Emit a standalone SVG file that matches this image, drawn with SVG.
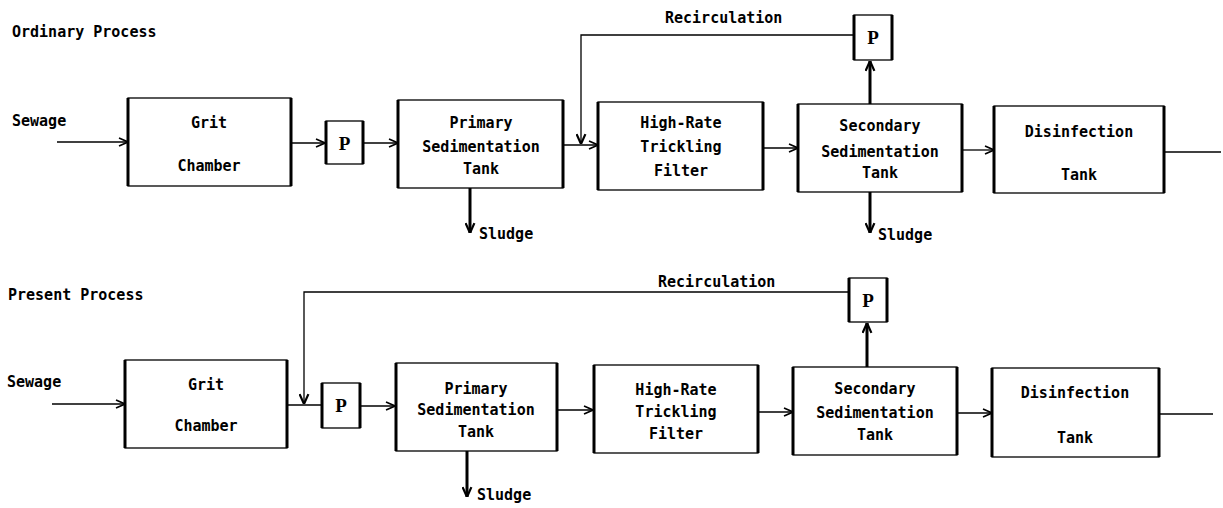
<svg xmlns="http://www.w3.org/2000/svg" width="1223" height="508" viewBox="0 0 1223 508">
<style>
text{font-family:"DejaVu Sans Mono","Liberation Mono",monospace;font-size:15px;font-weight:bold;fill:#000}
.c{text-anchor:middle}
.pl{font-family:"Liberation Serif",serif;font-size:19px;font-weight:bold;text-anchor:middle}
.bx{fill:#fff;stroke:#000;stroke-width:1.3}
.sd{fill:none;stroke:#000;stroke-width:3}
.ln{fill:none;stroke:#000;stroke-width:1.3}
.tk{fill:none;stroke:#000;stroke-width:3}
</style>
<defs>
<marker id="a" viewBox="0 0 10 10" refX="10" refY="5" markerWidth="10" markerHeight="10" markerUnits="userSpaceOnUse" orient="auto">
<path d="M1,1 L10,5 L1,9" fill="none" stroke="#000" stroke-width="1.6"/>
</marker>
<marker id="at" viewBox="0 0 10 10" refX="10" refY="5" markerWidth="11" markerHeight="11" markerUnits="userSpaceOnUse" orient="auto">
<path d="M1,1 L10,5 L1,9" fill="none" stroke="#000" stroke-width="2"/>
</marker>
</defs>
<rect width="1223" height="508" fill="#fff"/>

<g id="labels">
<text x="12" y="37">Ordinary Process</text>
<text x="12" y="126">Sewage</text>
<text x="665" y="23">Recirculation</text>
<text x="479" y="239">Sludge</text>
<text x="878" y="240">Sludge</text>
<text x="8" y="300">Present Process</text>
<text x="7" y="387">Sewage</text>
<text x="658" y="287">Recirculation</text>
<text x="477" y="500">Sludge</text>
</g>

<g id="connectors">
<!-- top row -->
<line class="ln" x1="57" y1="142" x2="128" y2="142" marker-end="url(#a)"/>
<line class="ln" x1="291" y1="143" x2="325" y2="143" marker-end="url(#a)"/>
<line class="ln" x1="363" y1="143" x2="398" y2="143" marker-end="url(#a)"/>
<line class="ln" x1="563" y1="145" x2="598" y2="145" marker-end="url(#a)"/>
<polyline class="ln" points="854,35 581,35 581,144" marker-end="url(#at)"/>
<line class="ln" x1="763" y1="148" x2="798" y2="148" marker-end="url(#a)"/>
<line class="ln" x1="962" y1="150" x2="994" y2="150" marker-end="url(#a)"/>
<line class="ln" x1="1164" y1="152" x2="1221" y2="152"/>
<line class="tk" x1="870" y1="104" x2="870" y2="61" marker-end="url(#at)"/>
<line class="tk" x1="470" y1="188" x2="470" y2="233" marker-end="url(#at)"/>
<line class="tk" x1="870" y1="192" x2="870" y2="233" marker-end="url(#at)"/>
<!-- bottom row -->
<line class="ln" x1="52" y1="404" x2="125" y2="404" marker-end="url(#a)"/>
<line class="ln" x1="287" y1="405" x2="322" y2="405"/>
<polyline class="ln" points="849,292 304,292 304,404" marker-end="url(#at)"/>
<line class="ln" x1="360" y1="406" x2="395" y2="406" marker-end="url(#a)"/>
<line class="ln" x1="557" y1="410" x2="593" y2="410" marker-end="url(#a)"/>
<line class="ln" x1="758" y1="412" x2="793" y2="412" marker-end="url(#a)"/>
<line class="ln" x1="957" y1="413" x2="992" y2="413" marker-end="url(#a)"/>
<line class="ln" x1="1159" y1="414" x2="1213" y2="414"/>
<line class="tk" x1="867" y1="367" x2="867" y2="323" marker-end="url(#at)"/>
<line class="tk" x1="467" y1="451" x2="467" y2="497" marker-end="url(#at)"/>
</g>

<!-- top row nodes -->
<g id="grit1">
<rect class="bx" x="128" y="98" width="163" height="88"/>
<path class="sd" d="M128,98 V186 M291,98 V186"/>
<text class="c" x="209" y="128">Grit</text>
<text class="c" x="209" y="171">Chamber</text>
</g>
<g id="pump1">
<rect class="bx" x="326" y="121" width="37" height="43"/>
<path class="sd" d="M326,121 V164 M363,121 V164"/>
<text class="pl" x="344.5" y="150">P</text>
</g>
<g id="primary1">
<rect class="bx" x="398" y="100" width="165" height="88"/>
<path class="sd" d="M398,100 V188 M563,100 V188"/>
<text class="c" x="481" y="128">Primary</text>
<text class="c" x="481" y="152">Sedimentation</text>
<text class="c" x="481" y="174">Tank</text>
</g>
<g id="filter1">
<rect class="bx" x="598" y="102" width="165" height="88"/>
<path class="sd" d="M598,102 V190 M763,102 V190"/>
<text class="c" x="681" y="128">High-Rate</text>
<text class="c" x="681" y="152">Trickling</text>
<text class="c" x="681" y="176">Filter</text>
</g>
<g id="secondary1">
<rect class="bx" x="798" y="104" width="164" height="88"/>
<path class="sd" d="M798,104 V192 M962,104 V192"/>
<text class="c" x="880" y="131">Secondary</text>
<text class="c" x="880" y="157">Sedimentation</text>
<text class="c" x="880" y="178">Tank</text>
</g>
<g id="pump2">
<rect class="bx" x="854" y="15" width="38" height="45"/>
<path class="sd" d="M854,15 V60 M892,15 V60"/>
<text class="pl" x="873" y="44">P</text>
</g>
<g id="disinfection1">
<rect class="bx" x="994" y="106" width="170" height="87"/>
<path class="sd" d="M994,106 V193 M1164,106 V193"/>
<text class="c" x="1079" y="137">Disinfection</text>
<text class="c" x="1079" y="180">Tank</text>
</g>

<!-- bottom row nodes -->
<g id="grit2">
<rect class="bx" x="125" y="360" width="162" height="88"/>
<path class="sd" d="M125,360 V448 M287,360 V448"/>
<text class="c" x="206" y="390">Grit</text>
<text class="c" x="206" y="431">Chamber</text>
</g>
<g id="pump3">
<rect class="bx" x="322" y="383" width="38" height="45"/>
<path class="sd" d="M322,383 V428 M360,383 V428"/>
<text class="pl" x="341" y="412">P</text>
</g>
<g id="primary2">
<rect class="bx" x="396" y="363" width="161" height="88"/>
<path class="sd" d="M396,363 V451 M557,363 V451"/>
<text class="c" x="476" y="394">Primary</text>
<text class="c" x="476" y="415">Sedimentation</text>
<text class="c" x="476" y="437">Tank</text>
</g>
<g id="filter2">
<rect class="bx" x="594" y="365" width="164" height="88"/>
<path class="sd" d="M594,365 V453 M758,365 V453"/>
<text class="c" x="676" y="395">High-Rate</text>
<text class="c" x="676" y="417">Trickling</text>
<text class="c" x="676" y="439">Filter</text>
</g>
<g id="secondary2">
<rect class="bx" x="793" y="367" width="164" height="88"/>
<path class="sd" d="M793,367 V455 M957,367 V455"/>
<text class="c" x="875" y="394">Secondary</text>
<text class="c" x="875" y="418">Sedimentation</text>
<text class="c" x="875" y="440">Tank</text>
</g>
<g id="pump4">
<rect class="bx" x="849" y="278" width="38" height="44"/>
<path class="sd" d="M849,278 V322 M887,278 V322"/>
<text class="pl" x="868" y="307">P</text>
</g>
<g id="disinfection2">
<rect class="bx" x="992" y="368" width="167" height="89"/>
<path class="sd" d="M992,368 V457 M1159,368 V457"/>
<text class="c" x="1075" y="398">Disinfection</text>
<text class="c" x="1075" y="443">Tank</text>
</g>
</svg>
